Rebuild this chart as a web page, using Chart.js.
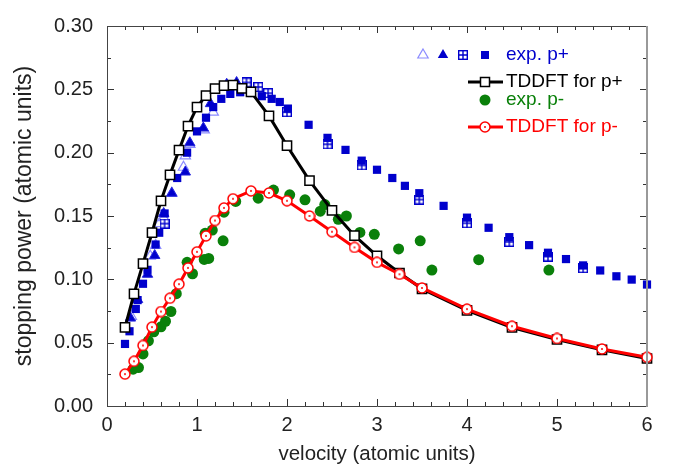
<!DOCTYPE html>
<html>
<head>
<meta charset="utf-8">
<script src="https://cdn.jsdelivr.net/npm/chart.js@4/dist/chart.umd.min.js"></script>
<style>
  body { margin: 0; background: #fff; }
  #wrap { width: 673px; height: 472px; }
</style>
</head>
<body>
<div id="wrap"><canvas id="chart" width="673" height="472"></canvas></div>
<script>
// TDDFT for p+
const tdP_x = [0.2, 0.3, 0.4, 0.5, 0.6, 0.7, 0.8, 0.9, 1.0, 1.1, 1.2, 1.3, 1.4, 1.5, 1.6, 1.8, 2.0, 2.25, 2.5, 2.75, 3.0, 3.25, 3.5, 4.0, 4.5, 5.0, 5.5, 6.0];
const tdP_y = [0.062, 0.0885, 0.1124, 0.1368, 0.162, 0.1825, 0.202, 0.221, 0.236, 0.245, 0.2505, 0.253, 0.2533, 0.2508, 0.248, 0.229, 0.2055, 0.178, 0.1545, 0.1345, 0.1186, 0.105, 0.0925, 0.0755, 0.062, 0.0525, 0.0443, 0.0375];

// TDDFT for p-
const tdM_x = [0.2, 0.3, 0.4, 0.5, 0.6, 0.7, 0.8, 0.9, 1.0, 1.1, 1.2, 1.3, 1.4, 1.6, 1.8, 2.0, 2.25, 2.5, 2.75, 3.0, 3.25, 3.5, 4.0, 4.5, 5.0, 5.5, 6.0];
const tdM_y = [0.0252, 0.0353, 0.0478, 0.0623, 0.0746, 0.0851, 0.0962, 0.109, 0.1217, 0.1343, 0.1464, 0.1564, 0.1636, 0.1698, 0.1682, 0.162, 0.150, 0.1376, 0.1252, 0.1134, 0.104, 0.0932, 0.0765, 0.063, 0.0533, 0.045, 0.0385];

// exp. p+ (filled squares)
const expSq_x = [0.2, 0.25, 0.32, 0.34, 0.40, 0.45, 0.54, 0.58, 0.64, 0.78, 0.89, 1.0, 1.1, 1.18, 1.27, 1.37, 1.48, 1.61, 1.72, 1.83, 1.92, 2.01, 2.24, 2.45, 2.65, 2.83, 3.0, 3.17, 3.31, 3.47, 3.74, 4.0, 4.24, 4.47, 4.69, 4.9, 5.1, 5.29, 5.48, 5.66, 5.83, 6.0];
const expSq_y = [0.049, 0.059, 0.0766, 0.0836, 0.0965, 0.1075, 0.1275, 0.1368, 0.152, 0.180, 0.200, 0.2168, 0.2276, 0.236, 0.2425, 0.2464, 0.2477, 0.2471, 0.2446, 0.2425, 0.240, 0.2348, 0.222, 0.2117, 0.2022, 0.1937, 0.1865, 0.180, 0.1738, 0.168, 0.158, 0.1487, 0.1407, 0.1333, 0.127, 0.121, 0.116, 0.111, 0.107, 0.1024, 0.0998, 0.0959];

// exp. p+ (squares with grid)
const expGrid_x = [0.64, 1.55, 1.68, 1.79, 2.0, 2.45, 2.83, 3.47, 4.0, 4.47, 4.9, 5.29];
const expGrid_y = [0.144, 0.2554, 0.2518, 0.247, 0.232, 0.2066, 0.190, 0.163, 0.1443, 0.1296, 0.118, 0.1088];

// exp. p+ (filled triangles)
const expTri_x = [0.26, 0.34, 0.45, 0.53, 0.63, 0.72, 0.87, 0.92, 1.07, 1.15, 1.33, 1.44];
const expTri_y = [0.0694, 0.084, 0.104, 0.1188, 0.152, 0.168, 0.1847, 0.2078, 0.2194, 0.2387, 0.254, 0.2554];

// exp. p+ (open triangles)
const expOpen_x = [0.27, 0.48, 0.54, 0.58, 0.63, 0.72, 0.85, 0.87, 0.92, 1.08, 1.18];
const expOpen_y = [0.0708, 0.1183, 0.1268, 0.144, 0.1487, 0.168, 0.1885, 0.1975, 0.2065, 0.218, 0.232];

// exp. p-
const expM_x = [0.29, 0.35, 0.40, 0.46, 0.52, 0.60, 0.65, 0.71, 0.77, 0.89, 0.95, 1.08, 1.09, 1.13, 1.17, 1.29, 1.30, 1.43, 1.68, 1.85, 2.03, 2.2, 2.37, 2.42, 2.57, 2.66, 2.81, 2.97, 3.24, 3.48, 3.61, 4.13, 4.91];
const expM_y = [0.0291, 0.0303, 0.0411, 0.0515, 0.0586, 0.0625, 0.0669, 0.0746, 0.0887, 0.1134, 0.1044, 0.1157, 0.1363, 0.1165, 0.1389, 0.1304, 0.153, 0.1615, 0.1641, 0.1705, 0.1667, 0.1628, 0.1538, 0.159, 0.1474, 0.150, 0.137, 0.1355, 0.124, 0.1304, 0.1073, 0.1155, 0.1073];

const legendLabels = ["exp. p+", "TDDFT for p+", "exp. p-", "TDDFT for p-"];

const BLUE = "#0000cc";
const GREEN = "#0a800a";
const RED = "#ff0000";
const TXT = "#222";
const FONT = "'Liberation Sans', Arial, Helvetica, sans-serif";

const pts = (xs, ys) => xs.map((x, i) => ({ x: x, y: ys[i] }));

// custom marker images
function gridSquare(size) {
  const c = document.createElement("canvas");
  c.width = size; c.height = size;
  const g = c.getContext("2d");
  g.strokeStyle = BLUE;
  g.lineWidth = 1.4;
  g.fillStyle = "#fff";
  g.fillRect(0.7, 0.7, size - 1.4, size - 1.4);
  g.strokeRect(0.7, 0.7, size - 1.4, size - 1.4);
  g.beginPath();
  g.moveTo(size / 2, 0); g.lineTo(size / 2, size);
  g.moveTo(0, size / 2); g.lineTo(size, size / 2);
  g.stroke();
  return c;
}
function dotCircle(size) {
  const c = document.createElement("canvas");
  c.width = size; c.height = size;
  const g = c.getContext("2d");
  const r = size / 2;
  g.fillStyle = "#fff";
  g.strokeStyle = RED;
  g.lineWidth = 1.5;
  g.beginPath(); g.arc(r, r, r - 1, 0, Math.PI * 2); g.fill(); g.stroke();
  g.fillStyle = RED;
  g.beginPath(); g.arc(r, r, 1, 0, Math.PI * 2); g.fill();
  return c;
}
const gridImg = gridSquare(10);
const dotImg = dotCircle(12);

// frame with inward ticks + custom legend
const framePlugin = {
  id: "frame",
  afterDatasetsDraw(chart) {
    const ctx = chart.ctx;
    const a = chart.chartArea;
    const xs = chart.scales.x, ys = chart.scales.y;
    ctx.save();
    ctx.strokeStyle = "#333";
    ctx.lineWidth = 1;
    ctx.beginPath();
    for (let i = 0; i <= 30; i++) {
      const v = i * 0.2;
      const px = Math.round(xs.getPixelForValue(v)) + 0.5;
      const len = i % 5 === 0 ? 7 : 4;
      ctx.moveTo(px, a.bottom); ctx.lineTo(px, a.bottom - len);
      ctx.moveTo(px, a.top); ctx.lineTo(px, a.top + len);
    }
    for (let i = 0; i <= 12; i++) {
      const v = i * 0.025;
      const py = Math.round(ys.getPixelForValue(v)) + 0.5;
      const len = i % 2 === 0 ? 7 : 4;
      ctx.moveTo(a.left, py); ctx.lineTo(a.left + len, py);
      ctx.moveTo(a.right, py); ctx.lineTo(a.right - len, py);
    }
    ctx.stroke();
    ctx.strokeStyle = "#444";
    ctx.beginPath();
    ctx.moveTo(a.left + 0.5, a.top + 0.5);
    ctx.lineTo(a.left + 0.5, a.bottom + 0.5);
    ctx.lineTo(a.right, a.bottom + 0.5);
    ctx.moveTo(a.left, a.top + 0.5);
    ctx.lineTo(a.right, a.top + 0.5);
    ctx.stroke();
    ctx.strokeStyle = "#999";
    ctx.lineWidth = 2;
    ctx.beginPath();
    ctx.moveTo(a.right, a.top); ctx.lineTo(a.right, a.bottom + 1);
    ctx.stroke();

    // legend
    ctx.font = "19px " + FONT;
    ctx.textBaseline = "middle";
    ctx.textAlign = "left";
    const tx = 506, mx = 485;
    const rows = [55, 82, 100, 127];
    // row 1: four marker kinds
    drawTri(ctx, 423, rows[0], false);
    drawTri(ctx, 443, rows[0], true);
    ctx.drawImage(gridImg, 463 - 5, rows[0] - 5);
    ctx.fillStyle = BLUE;
    ctx.fillRect(mx - 4, rows[0] - 4, 8, 8);
    ctx.fillText(legendLabels[0], tx, rows[0]);
    // row 2
    ctx.strokeStyle = "#000"; ctx.lineWidth = 3;
    ctx.beginPath(); ctx.moveTo(468, rows[1]); ctx.lineTo(503, rows[1]); ctx.stroke();
    ctx.fillStyle = "#fff"; ctx.lineWidth = 1.5;
    ctx.fillRect(mx - 4.5, rows[1] - 4.5, 9, 9);
    ctx.strokeRect(mx - 4.5, rows[1] - 4.5, 9, 9);
    ctx.fillStyle = "#000";
    ctx.fillText(legendLabels[1], tx, rows[1]);
    // row 3
    ctx.fillStyle = GREEN;
    ctx.beginPath(); ctx.arc(mx, rows[2], 5.5, 0, Math.PI * 2); ctx.fill();
    ctx.fillText(legendLabels[2], tx, rows[2]);
    // row 4
    ctx.strokeStyle = RED; ctx.lineWidth = 3;
    ctx.beginPath(); ctx.moveTo(468, rows[3]); ctx.lineTo(503, rows[3]); ctx.stroke();
    ctx.drawImage(dotImg, mx - 6, rows[3] - 6);
    ctx.fillStyle = RED;
    ctx.fillText(legendLabels[3], tx, rows[3]);
    ctx.restore();
  }
};
function drawTri(ctx, x, y, filled) {
  const r = 6;
  ctx.beginPath();
  ctx.moveTo(x, y - r);
  ctx.lineTo(x + r * 0.866, y + r * 0.5);
  ctx.lineTo(x - r * 0.866, y + r * 0.5);
  ctx.closePath();
  if (filled) { ctx.fillStyle = BLUE; ctx.fill(); }
  else { ctx.strokeStyle = "#8c8cff"; ctx.lineWidth = 1.2; ctx.stroke(); }
}

new Chart(document.getElementById("chart").getContext("2d"), {
  type: "scatter",
  data: {
    datasets: [
      {
        label: "TDDFT for p-", data: pts(tdM_x, tdM_y), showLine: true,
        borderColor: RED, borderWidth: 3, pointStyle: dotImg, pointRadius: 6,
        order: 0, clip: false,
      },
      {
        label: "TDDFT for p+", data: pts(tdP_x, tdP_y), showLine: true,
        borderColor: "#000", borderWidth: 3, pointStyle: "rect", pointRadius: 6.5,
        pointBackgroundColor: "#fff", pointBorderColor: "#000", pointBorderWidth: 1.5,
        order: 1, clip: false,
      },
      {
        label: "exp. p-", data: pts(expM_x, expM_y), pointStyle: "circle", pointRadius: 5.5,
        backgroundColor: GREEN, borderColor: GREEN, borderWidth: 0, order: 2, clip: false,
      },
      {
        label: "exp. p+ squares", data: pts(expSq_x, expSq_y), pointStyle: "rect", pointRadius: 5.8,
        backgroundColor: BLUE, borderColor: BLUE, borderWidth: 0, order: 3, clip: false,
      },
      {
        label: "exp. p+ grid", data: pts(expGrid_x, expGrid_y), pointStyle: gridImg, pointRadius: 5,
        order: 4, clip: false,
      },
      {
        label: "exp. p+ triangles", data: pts(expTri_x, expTri_y), pointStyle: "triangle", pointRadius: 6,
        backgroundColor: BLUE, borderColor: "#2222dd", borderWidth: 1, order: 5, clip: false,
      },
      {
        label: "exp. p+ open", data: pts(expOpen_x, expOpen_y), pointStyle: "triangle", pointRadius: 6,
        backgroundColor: "rgba(255,255,255,0)", borderColor: "#8c8cff", borderWidth: 1.2, order: 6, clip: false,
      },
    ],
  },
  options: {
    responsive: false,
    animation: false,
    events: [],
    layout: { padding: { top: 18, right: 26, left: 0, bottom: 0 } },
    plugins: { legend: { display: false }, tooltip: { enabled: false } },
    scales: {
      x: {
        type: "linear", min: 0, max: 6,
        grid: { display: false, drawTicks: false },
        border: { display: false },
        ticks: { stepSize: 1, padding: 7, color: TXT, font: { family: FONT, size: 20 } },
        title: { display: true, text: "velocity (atomic units)", color: TXT, padding: { top: 0, bottom: 5 }, font: { family: FONT, size: 20.5 } },
        afterFit: (s) => { s.height = 66; },
      },
      y: {
        type: "linear", min: 0, max: 0.3,
        grid: { display: false, drawTicks: false },
        border: { display: false },
        ticks: { stepSize: 0.05, padding: 14, color: TXT, font: { family: FONT, size: 20 }, callback: (v) => v.toFixed(2) },
        title: { display: true, text: "stopping power (atomic units)", color: TXT, padding: { top: 11, bottom: 0 }, font: { family: FONT, size: 23 } },
        afterFit: (s) => { s.width = 107; },
      },
    },
  },
  plugins: [framePlugin],
});
</script>
</body>
</html>
